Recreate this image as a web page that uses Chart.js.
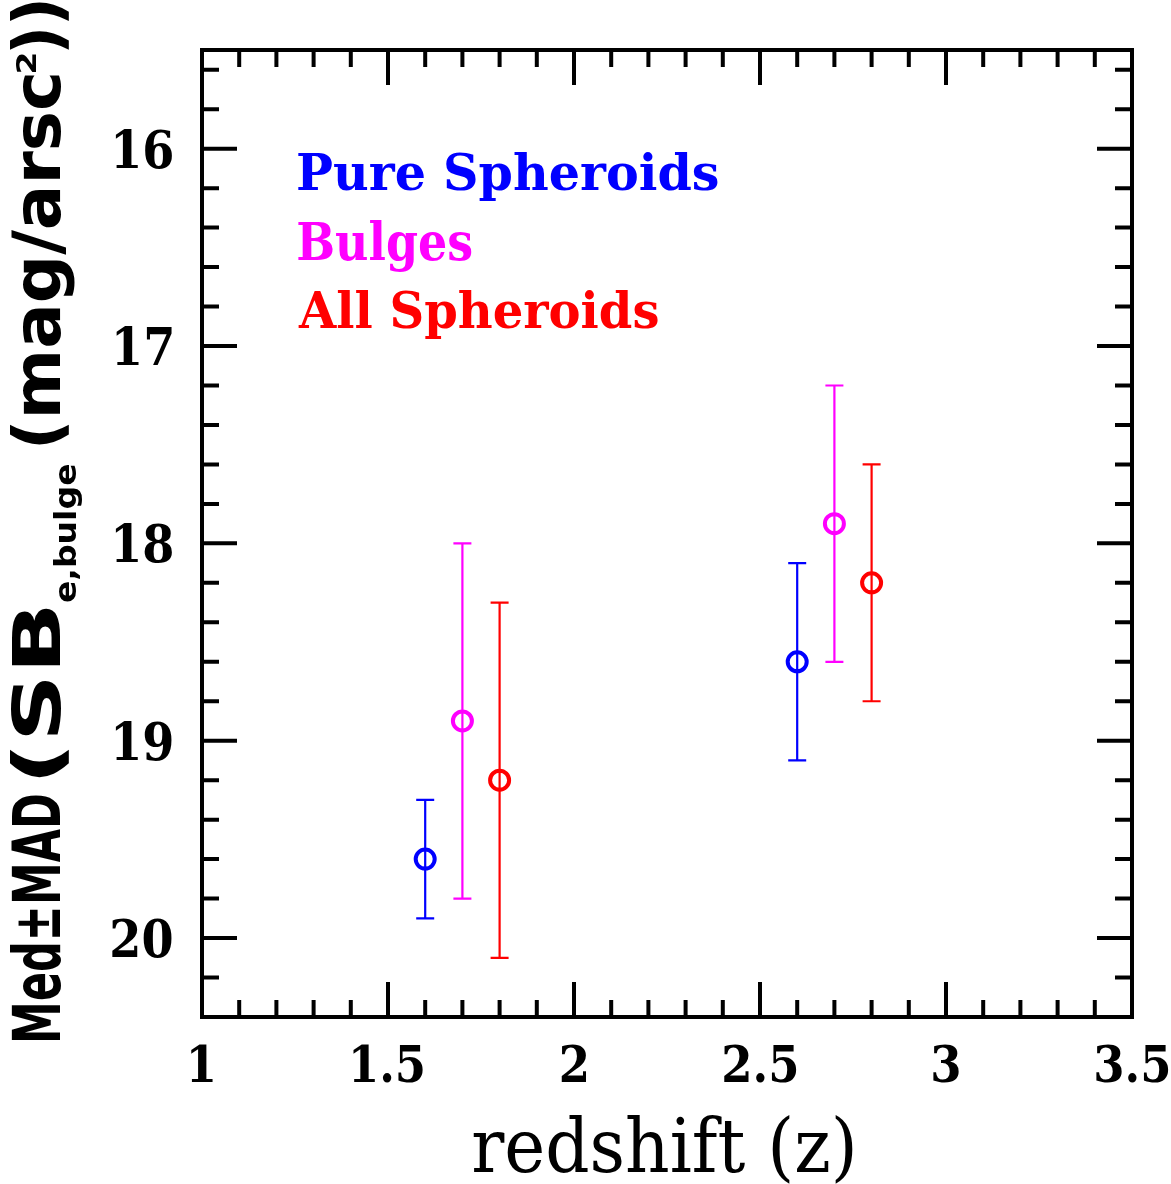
<!DOCTYPE html>
<html>
<head>
<meta charset="utf-8">
<script src="https://cdn.jsdelivr.net/npm/chart.js@4/dist/chart.umd.min.js"></script>
<style>
html,body{margin:0;padding:0;background:#fff;}
#wrap{width:1171px;height:1184px;}
</style>
</head>
<body>
<div id="wrap"><canvas id="c" width="1171" height="1184"></canvas></div>
<script>
// ---- data ----
const seriesNames = ['Pure Spheroids', 'Bulges', 'All Spheroids'];
const pureX = [1.6, 2.6];
const pureMed = [19.6, 18.6];
const pureLo = [19.3, 18.1];
const pureHi = [19.9, 19.1];
const bulgeX = [1.7, 2.7];
const bulgeMed = [18.9, 17.9];
const bulgeLo = [18.0, 17.2];
const bulgeHi = [19.8, 18.6];
const allX = [1.8, 2.8];
const allMed = [19.2, 18.2];
const allLo = [18.3, 17.6];
const allHi = [20.1, 18.8];
const xMajorTicks = [1, 1.5, 2, 2.5, 3, 3.5];
const xTickLabels = ['1', '1.5', '2', '2.5', '3', '3.5'];
const xMinorTicks = [1.1,1.2,1.3,1.4,1.6,1.7,1.8,1.9,2.1,2.2,2.3,2.4,2.6,2.7,2.8,2.9,3.1,3.2,3.3,3.4];
const yMajorTicks = [16, 17, 18, 19, 20];
const yTickLabels = ['16', '17', '18', '19', '20'];
const yMinorTicks = [15.6,15.8,16.2,16.4,16.6,16.8,17.2,17.4,17.6,17.8,18.2,18.4,18.6,18.8,19.2,19.4,19.6,19.8,20.2,20.4];
const xTitle = 'redshift (z)';

const colors = ['#0000ff', '#ff00ff', '#ff0000'];
const seriesX = [pureX, bulgeX, allX];
const seriesMed = [pureMed, bulgeMed, allMed];
const seriesLo = [pureLo, bulgeLo, allLo];
const seriesHi = [pureHi, bulgeHi, allHi];

function sizeFor(ctx, family, weight, refChar, capH) {
  ctx.font = weight + ' 100px ' + family;
  const asc = ctx.measureText(refChar).actualBoundingBoxAscent;
  return 100 * capH / asc;
}
function drawFit(ctx, text, family, weight, refChar, capH, left, baseline, inkW, sxFixed, anchor) {
  const size = sizeFor(ctx, family, weight, refChar, capH);
  ctx.font = weight + ' ' + size + 'px ' + family;
  const m = ctx.measureText(text);
  const w = m.actualBoundingBoxLeft + m.actualBoundingBoxRight;
  const sx = inkW ? inkW / w : (sxFixed || 1);
  let x0 = left;
  if (anchor === 'center') x0 = left - w * sx / 2;
  else if (anchor === 'right') x0 = left - w * sx;
  ctx.save();
  ctx.translate(x0, baseline);
  ctx.scale(sx, 1);
  ctx.textAlign = 'left';
  ctx.textBaseline = 'alphabetic';
  ctx.fillText(text, m.actualBoundingBoxLeft, 0);
  ctx.restore();
}

const errorBars = {
  id: 'errorBars',
  beforeDatasetsDraw(chart) {
    const ctx = chart.ctx, xs = chart.scales.x, ys = chart.scales.y;
    ctx.save();
    for (let s = 0; s < 3; s++) {
      ctx.strokeStyle = colors[s];
      ctx.lineWidth = 2.2;
      for (let i = 0; i < seriesX[s].length; i++) {
        const px = xs.getPixelForValue(seriesX[s][i]);
        const p1 = ys.getPixelForValue(seriesLo[s][i]);
        const p2 = ys.getPixelForValue(seriesHi[s][i]);
        ctx.beginPath();
        ctx.moveTo(px, p1); ctx.lineTo(px, p2);
        ctx.moveTo(px - 9, p1); ctx.lineTo(px + 9, p1);
        ctx.moveTo(px - 9, p2); ctx.lineTo(px + 9, p2);
        ctx.stroke();
      }
    }
    ctx.restore();
  }
};

const frame = {
  id: 'frame',
  afterDraw(chart) {
    const ctx = chart.ctx, xs = chart.scales.x, ys = chart.scales.y;
    const a = chart.chartArea;
    ctx.save();
    ctx.strokeStyle = '#000';
    ctx.lineWidth = 4;
    ctx.lineCap = 'butt';
    ctx.beginPath();
    const tick = (v, len, isX) => {
      if (isX) {
        const p = xs.getPixelForValue(v);
        ctx.moveTo(p, a.bottom); ctx.lineTo(p, a.bottom - len);
        ctx.moveTo(p, a.top); ctx.lineTo(p, a.top + len);
      } else {
        const p = ys.getPixelForValue(v);
        ctx.moveTo(a.left, p); ctx.lineTo(a.left + len, p);
        ctx.moveTo(a.right, p); ctx.lineTo(a.right - len, p);
      }
    };
    xMajorTicks.forEach(v => tick(v, 35, true));
    xMinorTicks.forEach(v => tick(v, 17, true));
    yMajorTicks.forEach(v => tick(v, 35, false));
    yMinorTicks.forEach(v => tick(v, 17, false));
    ctx.stroke();
    ctx.lineJoin = 'miter';
    ctx.strokeRect(a.left, a.top, a.right - a.left, a.bottom - a.top);

    // tick labels
    ctx.fillStyle = '#000';
    const fam = '"DejaVu Serif"';
    const size = sizeFor(ctx, fam, 'bold', '0', 38);
    ctx.font = 'bold ' + size + 'px ' + fam;
    const m20 = ctx.measureText('20');
    const sxT = 60 / (m20.actualBoundingBoxLeft + m20.actualBoundingBoxRight);
    xMajorTicks.forEach((v, i) => {
      drawFit(ctx, xTickLabels[i], fam, 'bold', '0', 37, xs.getPixelForValue(v), 1082, null, sxT, 'center');
    });
    yMajorTicks.forEach((v, i) => {
      drawFit(ctx, yTickLabels[i], fam, 'bold', '0', 38, 172, ys.getPixelForValue(v) + 19, null, sxT, 'right');
    });

    // x title
    drawFit(ctx, xTitle, fam, 'normal', 'x', 39, 473, 1172, 380, null, 'left');

    // legend texts
    ctx.fillStyle = colors[0];
    drawFit(ctx, seriesNames[0], fam, 'bold', 'H', 37, 298, 190, 420, null, 'left');
    ctx.fillStyle = colors[1];
    drawFit(ctx, seriesNames[1], fam, 'bold', 'H', 38, 298, 260, 174, null, 'left');
    ctx.fillStyle = colors[2];
    drawFit(ctx, seriesNames[2], fam, 'bold', 'H', 37, 298, 328, 360, null, 'left');

    // y title (rotated)
    ctx.fillStyle = '#000';
    const sf = '"DejaVu Sans"';
    ctx.save();
    ctx.translate(60, 0);
    ctx.rotate(-Math.PI / 2);
    drawFit(ctx, 'Med\u00b1MAD', sf, 'bold', 'H', 48, -1040, 0, 245, null, 'left');
    drawFit(ctx, '(SB', sf, 'bold', 'H', 48, -778, 0, 170, null, 'left');
    drawFit(ctx, 'e,bulge', sf, 'bold', 'b', 23, -602, 16, 138, null, 'left');
    drawFit(ctx, '(mag/arsc', sf, 'bold', 'H', 48, -445, 0, 370, null, 'left');
    drawFit(ctx, '2', sf, 'bold', '2', 19, -72, -24, 18, null, 'left');
    drawFit(ctx, '))', sf, 'bold', 'H', 48, -50, 0, 48, null, 'left');
    ctx.restore();
    ctx.restore();
  }
};

const datasets = seriesNames.map((name, s) => ({
  label: name,
  data: seriesX[s].map((x, i) => ({ x: x, y: seriesMed[s][i] })),
  showLine: false,
  pointStyle: 'circle',
  pointRadius: 9.5,
  pointHoverRadius: 9.5,
  pointBorderWidth: 4,
  borderColor: colors[s],
  pointBorderColor: colors[s],
  pointBackgroundColor: 'rgba(0,0,0,0)',
  backgroundColor: 'rgba(0,0,0,0)'
}));

new Chart(document.getElementById('c'), {
  type: 'scatter',
  data: { datasets: datasets },
  options: {
    responsive: false,
    animation: false,
    devicePixelRatio: 1,
    layout: { padding: { left: 202, top: 50, right: 39, bottom: 167 } },
    plugins: { legend: { display: false }, tooltip: { enabled: false } },
    scales: {
      x: {
        type: 'linear', min: 1, max: 3.5,
        grid: { display: false }, border: { display: false },
        ticks: { display: false },
        afterFit(s) { s.height = 0; }
      },
      y: {
        type: 'linear', min: 15.5, max: 20.4, reverse: true,
        grid: { display: false }, border: { display: false },
        ticks: { display: false },
        afterFit(s) { s.width = 0; }
      }
    }
  },
  plugins: [errorBars, frame]
});
</script>
</body>
</html>
